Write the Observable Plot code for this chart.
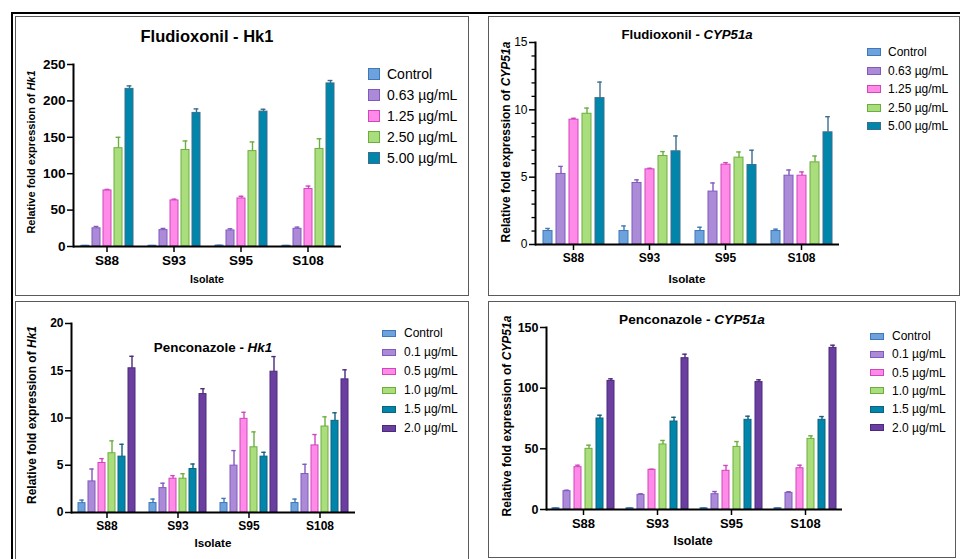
<!DOCTYPE html>
<html>
<head>
<meta charset="utf-8">
<script src="https://cdn.jsdelivr.net/npm/d3@7"></script>
<script src="https://cdn.jsdelivr.net/npm/@observablehq/plot@0.6"></script>
<style>
  html, body { margin: 0; padding: 0; background: #fff; }
  body { font-family: "Liberation Sans", Arial, sans-serif; color: #000; }
  #root { position: relative; width: 960px; height: 559px; overflow: hidden; background: #fff; }
  .outer { position: absolute; left: 11px; top: 12px; width: 980px; height: 600px; border-left: 2px solid #000; border-top: 2px solid #000; box-sizing: border-box; }
  .panel { position: absolute; border: 1.5px solid #5a5a5a; box-sizing: border-box; background: #fff; }
  .svgbox { position: absolute; }
  .svgbox svg { overflow: visible; display: block; }
  .t { position: absolute; white-space: nowrap; line-height: 1; }
  .sw { position: absolute; box-sizing: border-box; border: 1px solid; }
</style>
</head>
<body>
<div id="root"><div class="outer"></div></div>
<script>
// ---------- DATA ----------
const isolates = ["S88", "S93", "S95", "S108"];
const fludSeries = ["Control", "0.63 µg/mL", "1.25 µg/mL", "2.50 µg/mL", "5.00 µg/mL"];
const pencSeries = ["Control", "0.1 µg/mL", "0.5 µg/mL", "1.0 µg/mL", "1.5 µg/mL", "2.0 µg/mL"];

// Fludioxonil - Hk1 (rows: isolates, cols: series)
const fludHk1Mean = [
  [1.0, 25.0, 77.0, 135.0, 216.5],
  [1.0, 22.5, 63.3, 132.6, 183.5],
  [1.2, 22.0, 66.0, 131.0, 185.3],
  [1.0, 24.3, 79.0, 134.0, 224.0]
];
const fludHk1Err = [
  [0.3, 2.5, 1.4, 15.0, 4.1],
  [0.3, 2.3, 1.7, 12.4, 5.5],
  [0.4, 2.3, 3.0, 12.6, 3.2],
  [0.3, 2.3, 4.0, 14.0, 4.0]
];
const fludHk1Ticks = [0, 50, 100, 150, 200, 250];

// Fludioxonil - CYP51a
const fludCypMean = [
  [1.0, 5.24, 9.27, 9.71, 10.87],
  [1.0, 4.57, 5.58, 6.57, 6.92],
  [1.0, 3.93, 5.93, 6.45, 5.90],
  [1.0, 5.11, 5.11, 6.10, 8.33]
];
const fludCypErr = [
  [0.19, 0.56, 0.10, 0.42, 1.19],
  [0.38, 0.23, 0.08, 0.33, 1.14],
  [0.28, 0.64, 0.15, 0.42, 1.10],
  [0.14, 0.42, 0.28, 0.47, 1.16]
];
const fludCypTicks = [0, 5, 10, 15];
const fludCypMinorTicks = [1, 2, 3, 4, 6, 7, 8, 9, 11, 12, 13, 14];

// Penconazole - Hk1
const pencHk1Mean = [
  [0.99, 3.29, 5.24, 6.27, 5.91, 15.26],
  [1.00, 2.58, 3.58, 3.58, 4.60, 12.53],
  [1.00, 4.96, 9.91, 6.90, 5.91, 14.90],
  [1.00, 4.07, 7.10, 9.10, 9.70, 14.09]
];
const pencHk1Err = [
  [0.32, 1.31, 0.46, 1.31, 1.31, 1.27],
  [0.42, 0.52, 0.32, 0.52, 0.53, 0.57],
  [0.49, 1.59, 0.69, 1.63, 0.46, 1.60],
  [0.42, 1.03, 1.15, 1.02, 0.85, 1.01]
];
const pencHk1Ticks = [0, 5, 10, 15, 20];

// Penconazole - CYP51a
const pencCypMean = [
  [1.0, 15.1, 34.9, 50.0, 75.0, 106.0],
  [1.0, 12.1, 32.7, 53.6, 72.5, 124.7],
  [1.0, 12.6, 31.9, 51.6, 73.9, 105.0],
  [1.0, 13.7, 34.0, 58.2, 73.9, 133.2]
];
const pencCypErr = [
  [0.3, 0.8, 1.6, 3.0, 2.7, 1.7],
  [0.3, 0.8, 0.5, 3.3, 3.5, 3.3],
  [0.3, 2.2, 4.4, 4.4, 3.0, 1.9],
  [0.3, 0.9, 2.5, 2.5, 2.7, 2.2]
];
const pencCypTicks = [0, 50, 100, 150];

// ---------- STYLE ----------
const FONT = "Liberation Sans, Arial, sans-serif";
const fludFills   = ["#6ea2dc", "#ab8bd8", "#ff8ae8", "#aadd7c", "#0086ab"];
const fludStrokes = ["#3f78ba", "#8259bf", "#d046bd", "#6cae3e", "#3d6d8c"];
const pencFills   = ["#6ea2dc", "#ab8bd8", "#ff8ae8", "#aadd7c", "#0086ab", "#6b3fa0"];
const pencStrokes = ["#3f78ba", "#8259bf", "#d046bd", "#6cae3e", "#10607e", "#4a2a7c"];

const root = document.getElementById("root");

function addText(html, x, y, fs, opts = {}) {
  const d = document.createElement("div");
  d.className = "t";
  d.innerHTML = html;
  d.style.fontSize = fs + "px";
  d.style.fontWeight = opts.weight || "normal";
  if (opts.rotate) {
    d.style.left = x + "px";
    d.style.top = y + "px";
    d.style.transform = "translate(-50%,-50%) rotate(-90deg)";
  } else if (opts.center) {
    d.style.left = x + "px";
    d.style.top = (y - 0.85 * fs) + "px";
    d.style.transform = "translateX(-50%)";
  } else {
    d.style.left = x + "px";
    d.style.top = (y - fs / 2) + "px";
  }
  root.appendChild(d);
}

function addLegend(series, fills, strokes, lg) {
  series.forEach((s, i) => {
    const cy = lg.y0 + i * lg.dy;
    const sw = document.createElement("div");
    sw.className = "sw";
    sw.style.left = lg.sx + "px";
    sw.style.top = (cy - lg.sh / 2) + "px";
    sw.style.width = lg.sw + "px";
    sw.style.height = lg.sh + "px";
    sw.style.background = fills[i];
    sw.style.borderColor = strokes[i];
    root.appendChild(sw);
    addText(s, lg.tx, cy, lg.fs);
  });
}

function drawPanel(p) {
  const box = document.createElement("div");
  box.className = "panel";
  Object.assign(box.style, { left: p.bx + "px", top: p.by + "px", width: p.bw + "px", height: p.bh + "px" });
  root.appendChild(box);

  const rows = [];
  isolates.forEach((iso, i) => p.series.forEach((s, j) =>
    rows.push({ isolate: iso, series: s, k: j, mean: p.mean[i][j], err: p.err[i][j] })));
  const fillOf = d => p.fills[d.k];
  const strokeOf = d => p.strokes[d.k];

  const marks = [
    Plot.barY(rows, { fx: "isolate", x: "series", y: "mean", fill: fillOf, stroke: strokeOf, strokeWidth: 1 }),
    Plot.ruleX(rows, { fx: "isolate", x: "series", y1: "mean", y2: d => d.mean + d.err, stroke: strokeOf, strokeWidth: 1.4 }),
    Plot.tickY(rows, { fx: "isolate", x: "series", y: d => d.mean + d.err, stroke: strokeOf, strokeWidth: 1.4, insetLeft: p.cap, insetRight: p.cap }),
    Plot.ruleY([0], { stroke: "#000", strokeWidth: 2 }),
    Plot.frame({ anchor: "left", facetAnchor: "left", stroke: "#000", strokeWidth: 2 }),
    Plot.axisY(p.ticks, { tickSize: 6, tickPadding: 2, fontSize: p.yFs, fontWeight: p.yFw, strokeWidth: 1.5, label: null }),
    Plot.axisFx({ anchor: "bottom", tickSize: 6, tickPadding: 3, fontSize: p.xFs, fontWeight: "bold", strokeWidth: 1.5, label: null })
  ];
  if (p.minor) marks.push(Plot.axisY(p.minor, { tickSize: 3.5, tickFormat: () => "", strokeWidth: 1.3, label: null }));

  const chart = Plot.plot({
    width: p.w, height: p.h,
    marginLeft: p.ml, marginRight: p.mr, marginTop: p.mt, marginBottom: p.mb,
    style: { fontFamily: FONT, fontSize: p.yFs + "px", color: "#000", background: "transparent", overflow: "visible" },
    fx: { domain: isolates, padding: 0, label: null },
    x: { domain: p.series, paddingInner: p.pi, paddingOuter: p.po, axis: null },
    y: { domain: p.ydomain, label: null },
    color: { type: "identity" },
    marks
  });
  const holder = document.createElement("div");
  holder.className = "svgbox";
  holder.style.left = p.bx + "px";
  holder.style.top = p.by + "px";
  holder.appendChild(chart);
  root.appendChild(holder);

  addText(p.title, p.titleX, p.titleY, p.titleFs, { center: true, weight: "bold" });
  addText(p.ylabel, p.ylX, p.ylY, p.ylFs, { rotate: true, weight: "bold" });
  addText("Isolate", p.xlX, p.xlY, p.xlFs, { center: true, weight: "bold" });
  addLegend(p.series, p.fills, p.strokes, p.legend);
}

// Panel 1: Fludioxonil - Hk1
drawPanel({
  bx: 15, by: 16, bw: 454, bh: 280,
  w: 454, h: 280, ml: 56, mr: 127, mt: 48, mb: 50,
  series: fludSeries, fills: fludFills, strokes: fludStrokes,
  mean: fludHk1Mean, err: fludHk1Err, ydomain: [0, 250], ticks: fludHk1Ticks,
  pi: 0.31, po: 0.48, cap: 1.6, yFs: 13.5, yFw: "bold", xFs: 13.5,
  title: "Fludioxonil - Hk1", titleX: 207, titleY: 42, titleFs: 16.5,
  ylabel: "Relative fold expression of <i>Hk1</i>", ylX: 31, ylY: 152, ylFs: 11,
  xlX: 207, xlY: 283, xlFs: 10.7,
  legend: { sx: 368, sw: 12, sh: 12, tx: 387, y0: 74, dy: 21, fs: 14 }
});

// Panel 2: Fludioxonil - CYP51a
drawPanel({
  bx: 488, by: 16, bw: 472, bh: 280,
  w: 472, h: 280, ml: 46, mr: 120, mt: 26, mb: 52,
  series: fludSeries, fills: fludFills, strokes: fludStrokes,
  mean: fludCypMean, err: fludCypErr, ydomain: [0, 15], ticks: fludCypTicks, minor: fludCypMinorTicks,
  pi: 0.32, po: 0.44, cap: 2.2, yFs: 12, yFw: "normal", xFs: 12,
  title: "Fludioxonil - <i>CYP51a</i>", titleX: 687, titleY: 39, titleFs: 13.2,
  ylabel: "Relative fold expression of <i>CYP51a</i>", ylX: 506, ylY: 142, ylFs: 12,
  xlX: 687, xlY: 283, xlFs: 11.7,
  legend: { sx: 867, sw: 14, sh: 8, tx: 888, y0: 52, dy: 18.6, fs: 12 }
});

// Panel 3: Penconazole - Hk1
drawPanel({
  bx: 15, by: 301, bw: 454, bh: 262,
  w: 454, h: 258, ml: 55, mr: 114, mt: 22, mb: 47,
  series: pencSeries, fills: pencFills, strokes: pencStrokes,
  mean: pencHk1Mean, err: pencHk1Err, ydomain: [0, 20], ticks: pencHk1Ticks,
  pi: 0.31, po: 0.47, cap: 1.3, yFs: 12, yFw: "bold", xFs: 12,
  title: "Penconazole - <i>Hk1</i>", titleX: 213, titleY: 352, titleFs: 13.4,
  ylabel: "Relative fold expression of <i>Hk1</i>", ylX: 32, ylY: 415, ylFs: 12,
  xlX: 213, xlY: 547, xlFs: 11.7,
  legend: { sx: 382, sw: 14, sh: 7, tx: 404, y0: 333, dy: 19, fs: 12 }
});

// Panel 4: Penconazole - CYP51a
drawPanel({
  bx: 488, by: 301, bw: 468, bh: 257,
  w: 468, h: 256, ml: 58, mr: 114, mt: 26, mb: 48,
  series: pencSeries, fills: pencFills, strokes: pencStrokes,
  mean: pencCypMean, err: pencCypErr, ydomain: [0, 150], ticks: pencCypTicks,
  pi: 0.4, po: 0.36, cap: 1.2, yFs: 12.5, yFw: "bold", xFs: 13,
  title: "Penconazole - <i>CYP51a</i>", titleX: 692, titleY: 325, titleFs: 13.6,
  ylabel: "Relative fold expression of <i>CYP51a</i>", ylX: 507, ylY: 416, ylFs: 12,
  xlX: 693, xlY: 545, xlFs: 12.3,
  legend: { sx: 870, sw: 14, sh: 7, tx: 892, y0: 336, dy: 18.3, fs: 12 }
});
</script>
</body>
</html>
